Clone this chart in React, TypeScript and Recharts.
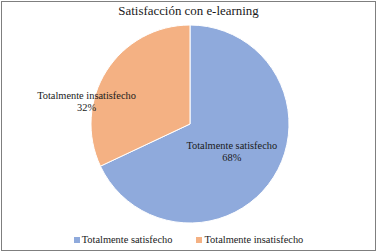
import { PieChart, Pie, Cell, Legend } from "recharts";

const categories = ["Totalmente satisfecho", "Totalmente insatisfecho"];
const values = [68, 32];
const colors = ["#8faadc", "#f4b183"];
// label placement: fraction of radius and angle shift (deg) per slice
const labelRadius = [0.5, 1.07];
const labelShift = [0, 20];

const data = categories.map((name, i) => ({ name, value: values[i] }));

const RAD = Math.PI / 180;
const font = '"Liberation Serif", "Times New Roman", serif';

const renderLabel = (props: any) => {
  const { cx, cy, midAngle, outerRadius, index, percent } = props;
  const r = outerRadius * labelRadius[index];
  const a = (midAngle + labelShift[index]) * RAD;
  const x = cx + r * Math.cos(a);
  const y = cy - r * Math.sin(a);
  return (
    <text x={x} y={y} textAnchor="middle" style={{ fontFamily: font }} fontSize={10.4} fill="#1a1a1a">
      <tspan x={x} dy={-2}>{categories[index]}</tspan>
      <tspan x={x} dy={12}>{Math.round(percent * 100)}%</tspan>
    </text>
  );
};

const LegendBox = () => (
  <div style={{ display: "flex", justifyContent: "center", gap: 24, fontFamily: font, fontSize: 10.4, color: "#1a1a1a" }}>
    {categories.map((c, i) => (
      <span key={c} style={{ display: "flex", alignItems: "center" }}>
        <span style={{ width: 6, height: 6, background: colors[i], marginRight: 2 }} />
        {c}
      </span>
    ))}
  </div>
);

export default function App() {
  return (
    <div
      style={{
        position: "absolute",
        left: 0,
        top: 0,
        width: 377,
        height: 252,
        background: "#fff",
        fontFamily: font,
      }}
    >
      <div
        style={{
          position: "absolute",
          left: 1,
          top: 1,
          width: 373,
          height: 248,
          border: "1px solid #7f7f7f",
        }}
      />
      <div
        style={{
          position: "absolute",
          top: 4,
          width: 377,
          textAlign: "center",
          fontSize: 12.9,
          color: "#1a1a1a",
        }}
      >
        Satisfacción con e-learning
      </div>
      <PieChart width={377} height={252} style={{ position: "absolute", left: 0, top: 0 }}>
        <Pie
          data={data}
          dataKey="value"
          nameKey="name"
          cx={185}
          cy={119}
          outerRadius={99}
          startAngle={90}
          endAngle={-270}
          stroke="#fff"
          strokeWidth={1}
          label={renderLabel}
          labelLine={false}
          isAnimationActive={false}
        >
          {data.map((d, i) => (
            <Cell key={d.name} fill={colors[i]} />
          ))}
        </Pie>
        <Legend verticalAlign="bottom" wrapperStyle={{ bottom: 7 }} content={<LegendBox />} />
      </PieChart>
    </div>
  );
}
